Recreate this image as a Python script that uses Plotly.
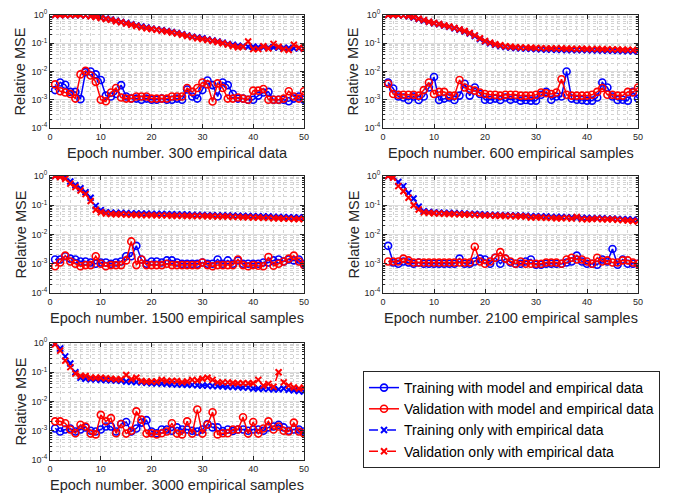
import plotly.graph_objects as go

epochs = list(range(1, 51))

panel_titles = ["Epoch number. 300 empirical data",
                "Epoch number. 600 empirical samples",
                "Epoch number. 1500 empirical samples",
                "Epoch number. 2100 empirical samples",
                "Epoch number. 3000 empirical samples"]

series_names = ["Training with model and empirical data",
                "Validation with model and empirical data",
                "Training only with empirical data",
                "Validation only with empirical data"]

y_tickvals = [1e-4, 1e-3, 1e-2, 1e-1, 1]
y_ticktext = ["10<sup>-4</sup>", "10<sup>-3</sup>", "10<sup>-2</sup>", "10<sup>-1</sup>", "10<sup>0</sup>"]
x_tickvals = [0, 10, 20, 30, 40, 50]

# ---- 300 empirical data ----
tm300 = [0.0022,0.0041,0.0034,0.0019,0.0019,0.00105,0.0095,0.0100,0.0079,0.0050,
         0.0014,0.0013,0.0016,0.0033,0.0013,0.0011,0.0011,0.0010,0.0011,0.0010,
         0.0010,0.0011,0.0010,0.0010,0.0011,0.0010,0.0023,0.0013,0.0011,0.0022,
         0.0048,0.0033,0.0013,0.0041,0.0033,0.0016,0.0011,0.0011,0.0010,0.0010,
         0.0014,0.0018,0.0019,0.0010,0.0010,0.0010,0.00088,0.0011,0.0013,0.0010]
vm300 = [0.0035,0.0020,0.0018,0.0016,0.0011,0.0079,0.0105,0.0072,0.0043,0.0010,
         0.00088,0.0018,0.0026,0.0012,0.0011,0.0011,0.0013,0.0013,0.0013,0.0011,
         0.0011,0.0011,0.0011,0.0013,0.0013,0.0013,0.0026,0.0019,0.0026,0.0041,
         0.0035,0.00087,0.0038,0.0026,0.0011,0.0011,0.0012,0.0011,0.0010,0.0021,
         0.0021,0.0024,0.0010,0.0010,0.0010,0.0011,0.0020,0.0013,0.0011,0.0020]
te300 = [1.0,1.0,1.0,1.0,1.0,1.0,0.98,0.93,0.88,0.82,
         0.75,0.70,0.63,0.57,0.52,0.47,0.43,0.39,0.36,0.33,
         0.31,0.29,0.27,0.25,0.23,0.21,0.19,0.17,0.16,0.15,
         0.135,0.125,0.115,0.105,0.095,0.088,0.082,0.078,0.075,0.075,
         0.073,0.072,0.070,0.072,0.070,0.068,0.068,0.066,0.066,0.065]
ve300 = [1.0,1.0,1.0,1.0,1.0,1.0,0.97,0.90,0.85,0.78,
         0.72,0.67,0.60,0.55,0.50,0.45,0.41,0.37,0.34,0.32,
         0.30,0.28,0.26,0.24,0.22,0.20,0.18,0.165,0.15,0.14,
         0.13,0.12,0.11,0.10,0.09,0.08,0.072,0.075,0.115,0.062,
         0.062,0.078,0.065,0.095,0.075,0.062,0.058,0.088,0.070,0.064]

# ---- 600 empirical samples ----
tm600 = [0.0041,0.0025,0.0013,0.0012,0.00098,0.0013,0.00098,0.0013,0.0027,0.0064,
         0.00098,0.0011,0.0012,0.00098,0.0014,0.0037,0.0014,0.0027,0.0016,0.0010,
         0.0010,0.0011,0.00098,0.0012,0.0010,0.0011,0.00093,0.00098,0.00093,0.00093,
         0.0015,0.0019,0.0010,0.0013,0.0013,0.0100,0.0011,0.0010,0.00098,0.00093,
         0.00093,0.0012,0.0041,0.0027,0.0013,0.00098,0.0010,0.00093,0.0019,0.0011]
vm600 = [0.0037,0.0016,0.0015,0.0015,0.0015,0.0015,0.0014,0.0022,0.0041,0.0016,
         0.0019,0.0019,0.0014,0.0014,0.0050,0.0027,0.0023,0.0021,0.0018,0.0016,
         0.0015,0.0015,0.0014,0.0015,0.0015,0.0015,0.0014,0.0014,0.0014,0.0015,
         0.0018,0.0017,0.0016,0.0018,0.0053,0.0015,0.0014,0.0014,0.0014,0.0014,
         0.0015,0.0019,0.0026,0.0015,0.0015,0.0014,0.0014,0.0019,0.0018,0.0027]
te600 = [1.0,1.0,1.0,0.98,0.90,0.82,0.72,0.64,0.57,0.51,
         0.47,0.42,0.38,0.34,0.30,0.26,0.22,0.18,0.14,0.115,
         0.100,0.088,0.080,0.074,0.070,0.068,0.066,0.065,0.064,0.062,
         0.061,0.060,0.060,0.059,0.059,0.058,0.058,0.057,0.057,0.057,
         0.056,0.056,0.055,0.055,0.054,0.054,0.053,0.053,0.052,0.052]
ve600 = [1.0,1.0,1.0,0.97,0.91,0.84,0.74,0.66,0.58,0.52,
         0.48,0.43,0.39,0.35,0.31,0.27,0.23,0.19,0.15,0.12,
         0.105,0.092,0.085,0.078,0.075,0.073,0.071,0.070,0.069,0.068,
         0.067,0.066,0.066,0.065,0.065,0.064,0.064,0.063,0.064,0.063,
         0.062,0.063,0.061,0.061,0.060,0.060,0.059,0.059,0.058,0.058]

# ---- 1500 empirical samples ----
tm1500 = [0.0014,0.0014,0.0018,0.0015,0.0014,0.0012,0.0012,0.0011,0.0010,0.0011,
          0.0011,0.0010,0.0011,0.0012,0.0018,0.0018,0.0041,0.0014,0.0010,0.0012,
          0.0012,0.0011,0.0013,0.0013,0.0011,0.0010,0.0010,0.0010,0.0010,0.0011,
          0.0010,0.0010,0.0014,0.0010,0.0013,0.0010,0.0013,0.0010,0.0010,0.0010,
          0.0010,0.0011,0.0011,0.0013,0.0014,0.0012,0.0014,0.0013,0.0014,0.0010]
vm1500 = [0.00082,0.0011,0.0019,0.0012,0.0010,0.00082,0.0009,0.0009,0.0018,0.0010,
          0.00082,0.0009,0.0009,0.0009,0.0013,0.0058,0.0009,0.0014,0.0009,0.0009,
          0.0009,0.0009,0.0010,0.0009,0.0009,0.0009,0.0009,0.0009,0.0009,0.0011,
          0.0009,0.00082,0.0009,0.0009,0.0009,0.0009,0.0014,0.0009,0.00082,0.0009,
          0.00085,0.00082,0.0017,0.00085,0.0010,0.0012,0.0015,0.0019,0.0012,0.0009]
te1500 = [1.0,0.97,0.88,0.65,0.48,0.38,0.28,0.18,0.095,0.068,
          0.058,0.056,0.055,0.054,0.053,0.052,0.052,0.051,0.051,0.050,
          0.050,0.050,0.049,0.049,0.048,0.048,0.048,0.047,0.047,0.047,
          0.046,0.046,0.045,0.045,0.045,0.044,0.044,0.043,0.043,0.042,
          0.042,0.041,0.041,0.040,0.040,0.039,0.039,0.038,0.038,0.038]
ve1500 = [1.0,0.93,0.80,0.55,0.42,0.32,0.24,0.14,0.070,0.058,
          0.052,0.050,0.049,0.049,0.048,0.047,0.047,0.046,0.046,0.046,
          0.045,0.045,0.045,0.044,0.044,0.044,0.043,0.043,0.043,0.043,
          0.042,0.042,0.041,0.041,0.041,0.040,0.040,0.039,0.039,0.038,
          0.038,0.037,0.037,0.036,0.036,0.035,0.035,0.034,0.034,0.034]

# ---- 2100 empirical samples ----
tm2100 = [0.0041,0.0011,0.0010,0.0012,0.0011,0.0010,0.0011,0.0010,0.0010,0.0010,
          0.0010,0.0010,0.0010,0.0010,0.0015,0.0010,0.0010,0.0012,0.0015,0.0014,
          0.0010,0.0016,0.0010,0.0015,0.0011,0.0010,0.0010,0.0012,0.0014,0.00092,
          0.00092,0.0010,0.0010,0.0010,0.0010,0.0011,0.0012,0.0019,0.0012,0.0010,
          0.0010,0.00092,0.0014,0.0012,0.0032,0.00092,0.0014,0.0010,0.0010,0.0010]
vm2100 = [0.0012,0.0012,0.0012,0.0015,0.0013,0.0011,0.0011,0.0011,0.0011,0.0011,
          0.0011,0.0011,0.0011,0.0011,0.0011,0.0011,0.0011,0.0038,0.0012,0.0010,
          0.0012,0.0016,0.0025,0.0015,0.0012,0.0010,0.0012,0.0010,0.0010,0.0010,
          0.0010,0.0011,0.0011,0.0011,0.0010,0.0014,0.0016,0.0014,0.0014,0.0012,
          0.0010,0.0016,0.0012,0.0013,0.0011,0.0011,0.0013,0.0013,0.0011,0.0010]
te2100 = [1.0,0.93,0.62,0.45,0.26,0.17,0.090,0.062,0.059,0.057,
          0.056,0.055,0.054,0.053,0.052,0.051,0.050,0.050,0.049,0.048,
          0.047,0.047,0.046,0.046,0.045,0.045,0.044,0.044,0.042,0.042,
          0.041,0.041,0.040,0.040,0.040,0.039,0.038,0.038,0.037,0.037,
          0.036,0.036,0.036,0.035,0.035,0.034,0.033,0.033,0.032,0.031]
ve2100 = [1.0,0.88,0.45,0.30,0.18,0.10,0.072,0.057,0.055,0.053,
          0.052,0.051,0.050,0.050,0.049,0.048,0.048,0.047,0.046,0.045,
          0.045,0.044,0.044,0.043,0.043,0.042,0.042,0.041,0.038,0.039,
          0.038,0.037,0.037,0.036,0.036,0.037,0.035,0.040,0.034,0.033,
          0.034,0.035,0.033,0.033,0.033,0.032,0.031,0.030,0.029,0.028]

# ---- 3000 empirical samples ----
tm3000 = [0.0012,0.00094,0.0011,0.0012,0.00094,0.0011,0.0013,0.0010,0.00094,0.0011,
          0.0014,0.0014,0.00094,0.0017,0.0020,0.00094,0.0012,0.0019,0.0023,0.00094,
          0.00082,0.0011,0.0011,0.0010,0.0013,0.0011,0.0011,0.0010,0.00094,0.0011,
          0.0017,0.0013,0.0013,0.00098,0.0011,0.00098,0.0011,0.0011,0.0010,0.0011,
          0.0011,0.0010,0.0013,0.0014,0.0016,0.0013,0.0010,0.0011,0.0011,0.00094]
vm3000 = [0.0021,0.0021,0.0018,0.0011,0.00082,0.0016,0.0014,0.00080,0.00075,0.0035,
          0.0021,0.0027,0.00082,0.0017,0.00080,0.0010,0.0046,0.0024,0.00080,0.00082,
          0.00075,0.00082,0.00094,0.0018,0.00080,0.00075,0.0021,0.00080,0.0053,0.00080,
          0.0016,0.0043,0.00075,0.00082,0.00082,0.0011,0.0011,0.0029,0.00080,0.0020,
          0.00080,0.0012,0.0021,0.0011,0.0014,0.0010,0.00094,0.0019,0.00094,0.00080]
te3000 = [0.95,0.65,0.35,0.20,0.10,0.065,0.060,0.058,0.057,0.055,
          0.054,0.053,0.052,0.051,0.048,0.047,0.046,0.045,0.044,0.042,
          0.042,0.041,0.040,0.039,0.038,0.038,0.037,0.037,0.036,0.035,
          0.035,0.034,0.034,0.033,0.032,0.032,0.031,0.030,0.030,0.028,
          0.028,0.027,0.027,0.026,0.026,0.028,0.025,0.024,0.023,0.022]
ve3000 = [0.90,0.55,0.25,0.15,0.090,0.075,0.075,0.065,0.065,0.065,
          0.062,0.060,0.058,0.058,0.080,0.058,0.065,0.050,0.048,0.048,
          0.048,0.055,0.050,0.050,0.050,0.046,0.048,0.055,0.052,0.060,
          0.065,0.055,0.045,0.045,0.045,0.043,0.042,0.042,0.042,0.042,
          0.055,0.035,0.040,0.032,0.100,0.045,0.035,0.030,0.028,0.030]

panels_data = [(tm300, vm300, te300, ve300),
               (tm600, vm600, te600, ve600),
               (tm1500, vm1500, te1500, ve1500),
               (tm2100, vm2100, te2100, ve2100),
               (tm3000, vm3000, te3000, ve3000)]

# the page body adds an 8px offset; the figure fills the rest of the window
OFF = 8
W, H = 683 - OFF, 500 - OFF


def px(xp):
    return (xp - OFF) / W


def py(yp):
    return 1 - (yp - OFF) / H


# pixel boxes in window coordinates (left, right, top, bottom)
boxes = [(50, 304, 15, 128), (383, 638, 15, 128),
         (50, 304, 176, 293), (383, 638, 176, 293),
         (50, 304, 343, 460)]

AX = "#262626"
FONT = "Liberation Sans, Arial, Helvetica, sans-serif"
styles = [dict(color="#0000ff", symbol="circle-open", dash="solid"),
          dict(color="#ff0000", symbol="circle-open", dash="solid"),
          dict(color="#0000ff", symbol="x-thin-open", dash="dash"),
          dict(color="#ff0000", symbol="x-thin-open", dash="dash")]

minor_y = [m * 10.0 ** e for e in range(-4, 0) for m in range(2, 10)]
minor_x = [v for v in range(2, 50, 2) if v % 10 != 0]

fig = go.Figure()
annotations = []
layout = {}
for i, (data, box, title) in enumerate(zip(panels_data, boxes, panel_titles)):
    n = "" if i == 0 else str(i + 1)
    xa, ya = "x" + n, "y" + n
    for j, (vals, st, name) in enumerate(zip(data, styles, series_names)):
        is_x = st["symbol"].startswith("x")
        fig.add_trace(go.Scatter(
            x=epochs, y=vals, xaxis=xa, yaxis=ya, mode="lines+markers",
            name=name, showlegend=(i == 0), legendgroup=name,
            line=dict(color=st["color"], width=1.5, dash=st["dash"]),
            marker=dict(symbol=st["symbol"], size=(6 if is_x else 7),
                        color=st["color"], line=dict(color=st["color"], width=(2 if is_x else 1.6)))))
    l, r, t, b = box
    common = dict(showline=True, linecolor=AX, linewidth=1, mirror="ticks",
                  ticks="inside", ticklen=4, tickcolor=AX, automargin=False,
                  ticklabeloverflow="allow",
                  tickfont=dict(size=9, color=AX, family=FONT),
                  showgrid=True, gridcolor="#dcdcdc", gridwidth=1, zeroline=False)
    layout["xaxis" + n] = dict(common, domain=[px(l), px(r)], anchor=ya, range=[0, 50],
                               tickmode="array", tickvals=x_tickvals,
                               minor=dict(tickmode="array", tickvals=minor_x, showgrid=True,
                                          gridcolor="#d3d3d3", griddash="dot", gridwidth=1,
                                          ticks=""))
    layout["yaxis" + n] = dict(common, domain=[py(b), py(t)], anchor=xa, type="log",
                               range=[-4, 0], tickmode="array", tickvals=y_tickvals,
                               ticktext=y_ticktext,
                               tickfont=dict(size=9, color=AX, family=FONT),
                               minor=dict(tickmode="array", tickvals=minor_y, showgrid=True,
                                          gridcolor="#d3d3d3", griddash="dot", gridwidth=1,
                                          ticks="inside", ticklen=2, tickcolor=AX))
    cx = (l + r) / 2
    annotations.append(dict(text=title, x=px(cx), y=py(b + 25), xref="paper", yref="paper",
                            xanchor="center", yanchor="middle", showarrow=False,
                            font=dict(size=14.5, color=AX, family=FONT)))
    annotations.append(dict(text="Relative MSE", x=px(l - 30), y=py((t + b) / 2),
                            xref="paper", yref="paper", xanchor="center", yanchor="middle",
                            textangle=-90, showarrow=False,
                            font=dict(size=14.5, color=AX, family=FONT)))

fig.update_layout(**layout)
fig.update_layout(
    width=W, height=H, margin=dict(l=0, r=0, t=0, b=0, autoexpand=False),
    paper_bgcolor="white", plot_bgcolor="white",
    font=dict(family=FONT, color=AX),
    annotations=annotations,
    legend=dict(x=px(363), y=py(371), xanchor="left", yanchor="top",
                bgcolor="white", bordercolor=AX, borderwidth=1,
                font=dict(size=14, color="#000000", family=FONT),
                tracegroupgap=0, itemwidth=30),
)
fig.write_html("out.html")
